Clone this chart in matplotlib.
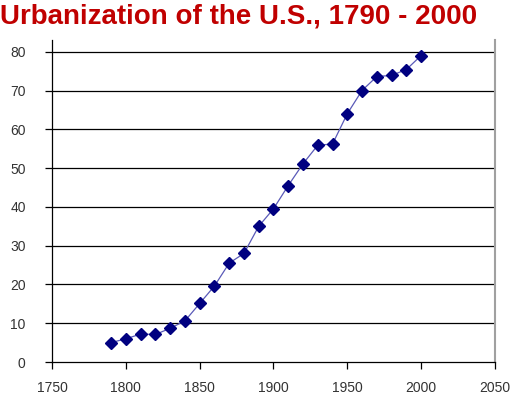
import matplotlib
matplotlib.use("Agg")
import matplotlib.pyplot as plt

# percent of US population living in urban areas, by census year
years = [1790, 1800, 1810, 1820, 1830, 1840, 1850, 1860, 1870, 1880, 1890,
         1900, 1910, 1920, 1930, 1940, 1950, 1960, 1970, 1980, 1990, 2000]
urban_pct = [5.0, 6.0, 7.2, 7.1, 8.7, 10.6, 15.1, 19.6, 25.5, 28.0, 35.0,
             39.5, 45.5, 51.1, 55.9, 56.2, 64.0, 70.0, 73.6, 73.9, 75.4, 79.0]

x_ticks = [1750, 1800, 1850, 1900, 1950, 2000, 2050]
y_ticks = [0, 10, 20, 30, 40, 50, 60, 70, 80]

plt.rcParams["font.family"] = ["Liberation Sans", "DejaVu Sans"]

fig = plt.figure(figsize=(5.16, 3.95), dpi=100)
ax = fig.add_axes([0.101, 0.0835, 0.858, 0.816])

for y in y_ticks[1:]:
    ax.axhline(y, color="black", linewidth=0.9, zorder=1)

ax.plot(years, urban_pct, color="#5a5ab8", linewidth=0.9, zorder=2)
ax.plot(years, urban_pct, linestyle="none", marker="D", markersize=6,
        color="#000080", zorder=3)

ax.set_xlim(1750, 2050)
ax.set_ylim(0, 83.1)
ax.set_xticks(x_ticks)
ax.set_yticks(y_ticks)

ax.spines["top"].set_visible(False)
ax.spines["right"].set_color("#a0a0a0")
ax.spines["right"].set_linewidth(1.5)
ax.spines["left"].set_linewidth(0.9)
ax.spines["bottom"].set_linewidth(0.9)
ax.tick_params(axis="both", direction="out", length=5, width=0.9,
               labelsize=10, colors="black", labelcolor="#333333")
ax.tick_params(axis="x", pad=9)
ax.tick_params(axis="y", pad=14)

fig.text(0.0, 0.99, "Urbanization of the U.S., 1790 - 2000", color="#c00000",
         fontsize=20, fontweight="bold", ha="left", va="top")

fig.savefig("out.png", dpi=100)
